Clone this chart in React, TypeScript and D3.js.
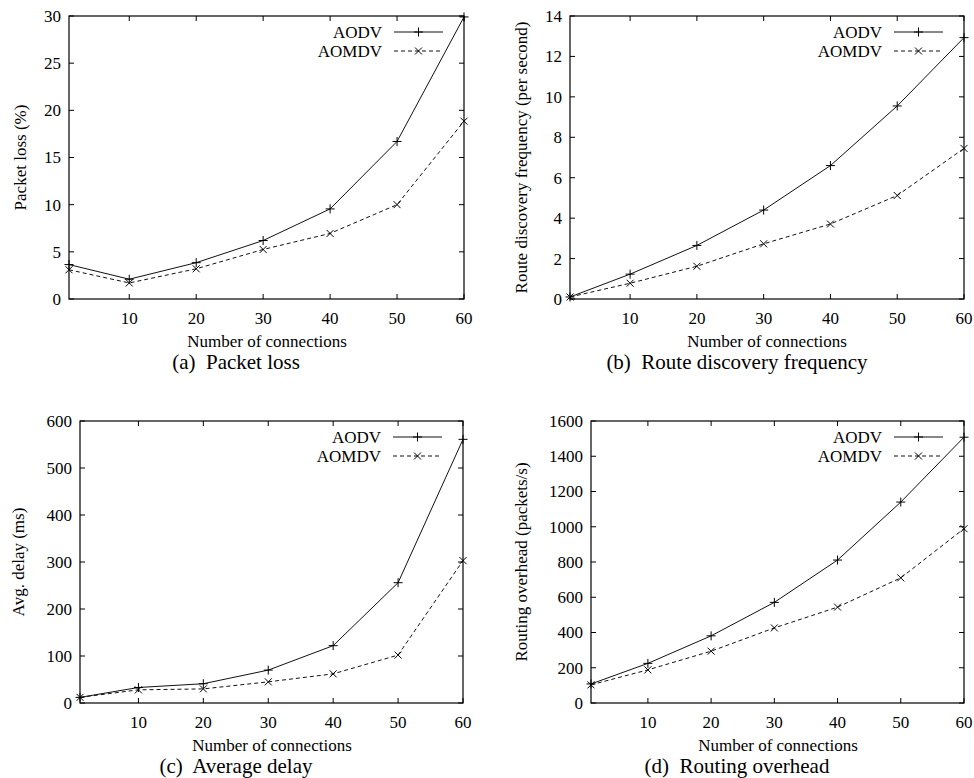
import React, { useEffect, useRef } from 'react';
import * as d3 from 'd3';

const connections = [1, 10, 20, 30, 40, 50, 60];
const xTicks = [10, 20, 30, 40, 50, 60];
const seriesNames = ['AODV', 'AOMDV'];

const lossAodv = [3.65, 2.1, 3.85, 6.2, 9.55, 16.7, 29.9];
const lossAomdv = [3.1, 1.7, 3.2, 5.25, 6.95, 10.0, 18.85];
const lossTicks = [0, 5, 10, 15, 20, 25, 30];

const discAodv = [0.1, 1.23, 2.65, 4.4, 6.6, 9.55, 12.93];
const discAomdv = [0.1, 0.78, 1.62, 2.73, 3.71, 5.12, 7.45];
const discTicks = [0, 2, 4, 6, 8, 10, 12, 14];

const delayAodv = [12, 33, 41, 70, 122, 256, 561];
const delayAomdv = [12, 28, 30, 45, 62, 102, 303];
const delayTicks = [0, 100, 200, 300, 400, 500, 600];

const overAodv = [108, 225, 381, 571, 811, 1140, 1508];
const overAomdv = [103, 188, 294, 426, 544, 710, 989];
const overTicks = [0, 200, 400, 600, 800, 1000, 1200, 1400, 1600];

const panels = [
  { x0: 69, x1: 464, y0: 16, y1: 299, ticks: lossTicks, a: lossAodv, b: lossAomdv,
    ylabel: 'Packet loss (%)', ylx: 20, caption: '(a)  Packet loss', capX: 236, titleX: 267 },
  { x0: 570, x1: 964, y0: 16, y1: 299, ticks: discTicks, a: discAodv, b: discAomdv,
    ylabel: 'Route discovery frequency (per second)', ylx: 521, caption: '(b)  Route discovery frequency', capX: 737, titleX: 767 },
  { x0: 80, x1: 463, y0: 421, y1: 703, ticks: delayTicks, a: delayAodv, b: delayAomdv,
    ylabel: 'Avg. delay (ms)', ylx: 18, caption: '(c)  Average delay', capX: 236, titleX: 272 },
  { x0: 591, x1: 964, y0: 421, y1: 703, ticks: overTicks, a: overAodv, b: overAomdv,
    ylabel: 'Routing overhead (packets/s)', ylx: 521, caption: '(d)  Routing overhead', capX: 737, titleX: 778 },
];

const FONT = '"Liberation Serif", "DejaVu Serif", serif';
const FS = 17;

const App = () => {
  const ref = useRef<SVGSVGElement>(null);

  useEffect(() => {
    const svg = d3.select(ref.current);
    svg.selectAll('*').remove();

    panels.forEach((p) => {
      const g = svg.append('g').attr('font-family', FONT).attr('fill', '#000');
      const x = d3.scaleLinear().domain([1, 60]).range([p.x0, p.x1]);
      const y = d3
        .scaleLinear()
        .domain([0, p.ticks[p.ticks.length - 1]])
        .range([p.y1, p.y0]);

      // mirrored inward ticks
      const tl = 5;
      p.ticks.forEach((t) => {
        g.append('line').attr('x1', p.x0).attr('x2', p.x0 + tl).attr('y1', y(t)).attr('y2', y(t))
          .attr('stroke', '#000');
        g.append('line').attr('x1', p.x1).attr('x2', p.x1 - tl).attr('y1', y(t)).attr('y2', y(t))
          .attr('stroke', '#000');
        g.append('text').attr('x', p.x0 - 8).attr('y', y(t)).attr('dy', '0.35em')
          .attr('text-anchor', 'end').attr('font-size', FS)
          .text(t);
      });
      xTicks.forEach((t) => {
        g.append('line').attr('x1', x(t)).attr('x2', x(t)).attr('y1', p.y1).attr('y2', p.y1 - tl)
          .attr('stroke', '#000');
        g.append('line').attr('x1', x(t)).attr('x2', x(t)).attr('y1', p.y0).attr('y2', p.y0 + tl)
          .attr('stroke', '#000');
        g.append('text').attr('x', x(t)).attr('y', p.y1 + 25)
          .attr('text-anchor', 'middle').attr('font-size', FS)
          .text(t);
      });

      g.append('rect').attr('x', p.x0).attr('y', p.y0)
        .attr('width', p.x1 - p.x0).attr('height', p.y1 - p.y0)
        .attr('fill', 'none').attr('stroke', '#000').attr('stroke-width', 1.2);

      const line = d3.line<number>().x((d, i) => x(connections[i])).y((d) => y(d));

      [p.a, p.b].forEach((vals, si) => {
        g.append('path').datum(vals).attr('d', line)
          .attr('fill', 'none').attr('stroke', '#111').attr('stroke-width', 1)
          .attr('stroke-dasharray', si === 1 ? '4,3' : null);
        vals.forEach((v, i) => {
          drawMarker(g, x(connections[i]), y(v), si);
        });
      });

      // legend
      const lineEnd = p.x1 - 21;
      const lineStart = lineEnd - 49;
      seriesNames.forEach((name, si) => {
        const ly = p.y0 + 16 + si * 19;
        g.append('text').attr('x', lineStart - 12).attr('y', ly).attr('dy', '0.35em')
          .attr('text-anchor', 'end').attr('font-size', FS)
          .text(name);
        g.append('line').attr('x1', lineStart).attr('x2', lineEnd).attr('y1', ly).attr('y2', ly)
          .attr('stroke', '#111').attr('stroke-width', 1)
          .attr('stroke-dasharray', si === 1 ? '4,3' : null);
        drawMarker(g, (lineStart + lineEnd) / 2, ly, si);
      });

      // axis titles
      g.append('text').attr('x', p.titleX).attr('y', p.y1 + 48)
        .attr('text-anchor', 'middle').attr('font-size', FS)
        .text('Number of connections');
      g.append('text').attr('x', p.capX).attr('y', p.y1 + 70)
        .attr('text-anchor', 'middle').attr('font-size', 21)
        .style('white-space', 'pre')
        .text(p.caption);
      const cy = (p.y0 + p.y1) / 2;
      g.append('text').attr('transform', `translate(${p.ylx},${cy}) rotate(-90)`)
        .attr('dy', '0.35em')
        .attr('text-anchor', 'middle').attr('font-size', FS)
        .text(p.ylabel);
    });
  }, []);

  return (
    <svg ref={ref} width={974} height={778}
      style={{ position: 'absolute', left: 0, top: 0, background: '#fff' }} />
  );
};

function drawMarker(g: any, cx: number, cy: number, kind: number) {
  const s = kind === 0 ? 4.5 : 3.5;
  if (kind === 0) {
    g.append('path').attr('d', `M${cx - s},${cy}H${cx + s}M${cx},${cy - s}V${cy + s}`)
      .attr('stroke', '#000').attr('stroke-width', 1).attr('fill', 'none');
  } else {
    g.append('path').attr('d', `M${cx - s},${cy - s}L${cx + s},${cy + s}M${cx - s},${cy + s}L${cx + s},${cy - s}`)
      .attr('stroke', '#000').attr('stroke-width', 1).attr('fill', 'none');
  }
}

export default App;
